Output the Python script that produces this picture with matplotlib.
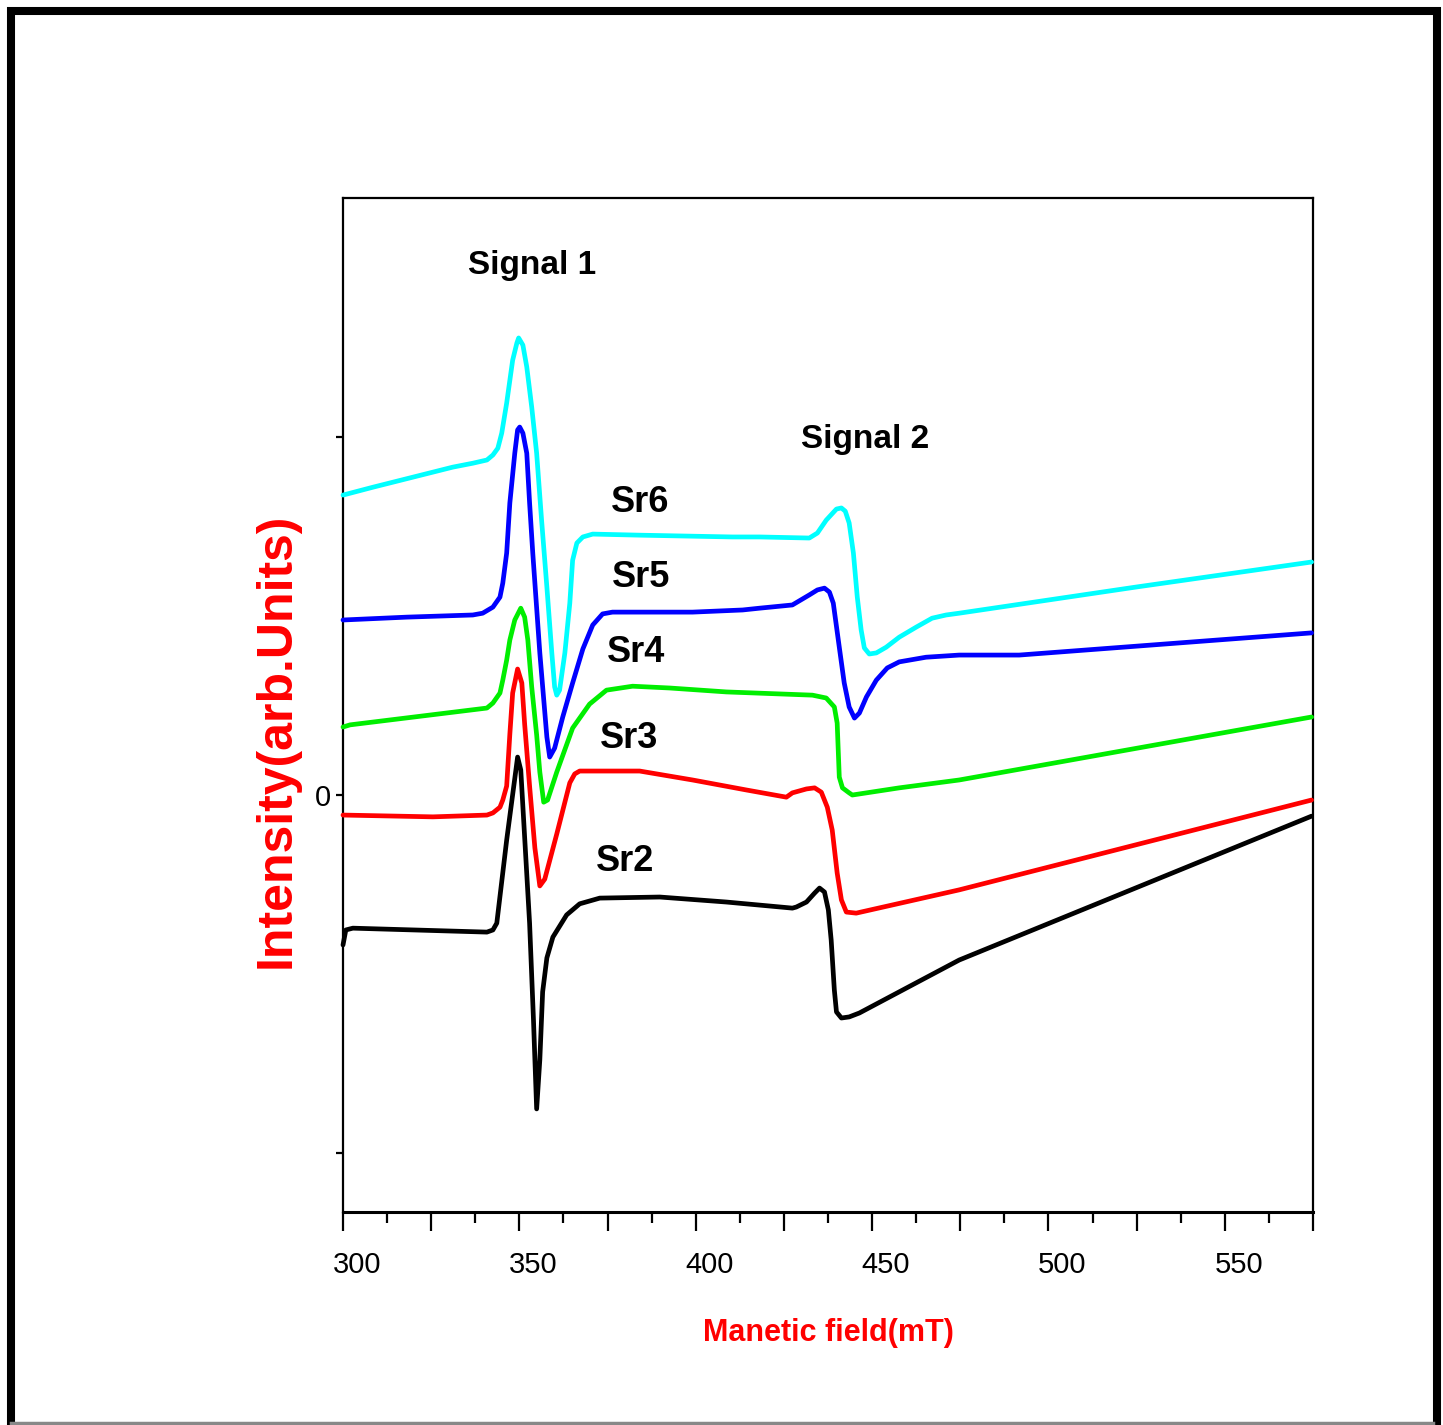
import matplotlib
matplotlib.use("Agg")
import matplotlib.pyplot as plt
import matplotlib.transforms as mtransforms
from matplotlib.patches import Rectangle
from matplotlib.lines import Line2D
from matplotlib.ticker import MultipleLocator, FixedLocator, FuncFormatter

# ---------------- data (field in mT, intensity in arb. units) ----------------
sr6_x = [300.0, 308.5, 331.1, 336.8, 340.8, 342.5, 343.9, 345.0, 346.4, 348.1, 349.3,
         349.8, 351.0, 352.1, 353.5, 354.9, 356.3, 357.8, 359.2, 360.0, 360.6, 361.4,
         362.9, 364.3, 365.1, 366.3, 368.0, 370.8, 384.1, 410.4, 418.1, 432.2, 434.5,
         437.0, 439.9, 441.3, 442.4, 443.5, 444.7, 445.8, 446.9, 447.8, 449.2, 451.2,
         454.0, 457.7, 462.5, 467.0, 471.0, 474.7, 524.8, 574.6]
sr6_y = [0.838, 0.860, 0.916, 0.927, 0.936, 0.950, 0.969, 1.011, 1.095, 1.215, 1.263,
         1.277, 1.257, 1.196, 1.084, 0.955, 0.768, 0.581, 0.397, 0.302, 0.279, 0.293,
         0.397, 0.536, 0.656, 0.704, 0.721, 0.729, 0.726, 0.721, 0.721, 0.718, 0.732,
         0.768, 0.799, 0.802, 0.793, 0.760, 0.676, 0.553, 0.461, 0.411, 0.394, 0.397,
         0.413, 0.441, 0.469, 0.494, 0.503, 0.508, 0.581, 0.651]

sr5_x = [300.0, 318.1, 336.8, 339.6, 342.5, 344.5, 345.3, 346.4, 347.3, 348.7, 349.5,
         350.1, 351.0, 352.1, 352.9, 353.8, 355.8, 357.8, 358.6, 360.0, 362.3, 365.1,
         368.0, 370.8, 373.6, 376.4, 399.1, 413.3, 418.1, 427.4, 432.2, 434.5, 436.5,
         437.9, 439.0, 440.7, 442.1, 443.5, 445.0, 446.4, 448.4, 451.2, 454.3, 457.7,
         465.3, 474.7, 491.7, 574.6]
sr5_y = [0.489, 0.497, 0.503, 0.508, 0.525, 0.553, 0.592, 0.676, 0.816, 0.955, 1.020,
         1.028, 1.011, 0.955, 0.816, 0.676, 0.397, 0.162, 0.106, 0.131, 0.218, 0.313,
         0.408, 0.475, 0.506, 0.511, 0.511, 0.517, 0.522, 0.531, 0.559, 0.573, 0.578,
         0.567, 0.536, 0.413, 0.313, 0.246, 0.215, 0.229, 0.274, 0.321, 0.355, 0.372,
         0.385, 0.391, 0.391, 0.453]

sr4_x = [300.0, 302.0, 340.8, 342.5, 344.5, 345.3, 346.4, 347.3, 348.7, 350.4, 351.5,
         352.4, 353.5, 354.9, 355.8, 356.9, 358.0, 360.6, 365.1, 369.9, 374.7, 382.1,
         392.6, 408.7, 433.1, 437.0, 439.3, 440.1, 440.7, 441.6, 443.5, 444.4, 457.7,
         474.7, 574.6]
sr4_y = [0.190, 0.196, 0.243, 0.257, 0.285, 0.321, 0.377, 0.433, 0.489, 0.522, 0.497,
         0.433, 0.302, 0.168, 0.064, -0.020, -0.014, 0.064, 0.187, 0.254, 0.293, 0.304,
         0.299, 0.288, 0.279, 0.271, 0.246, 0.201, 0.050, 0.020, 0.006, 0.000, 0.020,
         0.042, 0.218]

sr3_x = [300.0, 325.5, 340.8, 342.5, 344.5, 345.3, 346.4, 347.3, 348.1, 349.5, 350.7,
         351.5, 352.9, 354.4, 355.8, 357.2, 360.6, 364.3, 365.7, 367.1, 384.1, 399.1,
         414.4, 425.7, 427.4, 431.4, 433.7, 435.6, 437.3, 438.7, 440.1, 441.3, 442.7,
         445.5, 474.7, 574.6]
sr3_y = [-0.056, -0.061, -0.056, -0.050, -0.034, -0.014, 0.025, 0.170, 0.285, 0.352, 0.313,
         0.198, 0.025, -0.148, -0.254, -0.235, -0.109, 0.034, 0.059, 0.067, 0.067, 0.042,
         0.014, -0.006, 0.006, 0.017, 0.020, 0.008, -0.034, -0.098, -0.218, -0.293, -0.327,
         -0.330, -0.265, -0.014]

sr2_x = [300.0, 300.8, 302.8, 340.8, 342.5, 343.6, 346.4, 349.5, 350.4, 352.9, 354.0,
         354.9, 355.8, 356.6, 357.8, 359.5, 363.4, 367.1, 372.8, 389.8, 408.7, 427.4,
         428.5, 431.4, 433.7, 435.1, 436.5, 437.6, 438.4, 439.3, 439.9, 441.3, 443.5,
         446.4, 474.7, 574.6]
sr2_y = [-0.419, -0.377, -0.372, -0.383, -0.377, -0.358, -0.126, 0.106, 0.070, -0.358, -0.628,
         -0.877, -0.740, -0.550, -0.455, -0.397, -0.335, -0.304, -0.288, -0.285, -0.299, -0.316,
         -0.313, -0.299, -0.274, -0.260, -0.271, -0.321, -0.405, -0.545, -0.606, -0.623, -0.620,
         -0.609, -0.461, -0.059]

series_names = ["Sr6", "Sr5", "Sr4", "Sr3", "Sr2"]
series_colors = ["#00FFFF", "#0000FF", "#00EE00", "#FF0000", "#000000"]
label_pos = [(384.1, 0.818), (384.4, 0.609), (383.2, 0.399), (381.0, 0.159), (380.1, -0.187)]
signal_labels = ["Signal 1", "Signal 2"]
signal_pos = [(353.5, 1.480), (448.1, 0.992)]

x_major = [300, 325, 350, 375, 400, 425, 450, 475, 500, 525, 550, 575]
x_labeled = [300, 350, 400, 450, 500, 550]
y_ticks = [-1, 0, 1]

# ---------------- figure ----------------
W, H = 1443, 1425
fig = plt.figure(figsize=(W / 100, H / 100), dpi=100)
fig.patch.set_facecolor("white")

sans = ["Liberation Sans", "DejaVu Sans"]

ax = fig.add_axes([343 / W, 1 - 1212 / H, (1313 - 343) / W, (1212 - 198) / H])

xs = [sr6_x, sr5_x, sr4_x, sr3_x, sr2_x]
ys = [sr6_y, sr5_y, sr4_y, sr3_y, sr2_y]
for x, y, c in zip(xs, ys, series_colors):
    ax.plot(x, y, color=c, lw=3.4, solid_joinstyle="round", solid_capstyle="round",
            clip_on=False, zorder=3)

ax.set_xlim(300, 575)
ax.set_ylim(-1.165, 1.668)

# x ticks
ax.xaxis.set_major_locator(FixedLocator(x_major))
ax.xaxis.set_minor_locator(MultipleLocator(12.5))
ax.xaxis.set_major_formatter(FuncFormatter(lambda v, p: f"{int(round(v))}" if int(round(v)) in x_labeled else ""))
ax.tick_params(axis="x", which="major", direction="out", length=14, width=1.6, pad=14,
               labelsize=21)
ax.tick_params(axis="x", which="minor", direction="out", length=8, width=1.6)
for lab in ax.get_xticklabels():
    lab.set_fontfamily(sans)
offset = mtransforms.ScaledTranslation(14 / 100, 0, fig.dpi_scale_trans)
for lab in ax.xaxis.get_majorticklabels():
    lab.set_transform(lab.get_transform() + offset)

# y ticks
ax.yaxis.set_major_locator(FixedLocator(y_ticks))
ax.yaxis.set_major_formatter(FuncFormatter(lambda v, p: "0" if abs(v) < 1e-9 else ""))
ax.tick_params(axis="y", which="major", direction="out", length=5, width=1.6, pad=4,
               labelsize=21)
for lab in ax.get_yticklabels():
    lab.set_fontfamily(sans)

ax.spines["bottom"].set_linewidth(2.2)
ax.spines["left"].set_linewidth(1.6)
ax.spines["top"].set_linewidth(1.6)
ax.spines["right"].set_linewidth(1.6)

# labels
ax.set_xlabel("Manetic field(mT)", color="#FF0000", fontsize=22, fontfamily=sans,
              fontweight="bold")
ax.xaxis.set_label_coords((828 - 343) / (1313 - 343), -(1318 - 1212) / (1212 - 198))
ax.set_ylabel("Intensity(arb.Units)", color="#FF0000", fontsize=36, fontfamily=sans,
              fontweight="bold")
ax.yaxis.set_label_coords(-(343 - 300) / (1313 - 343), (1212 - 740) / (1212 - 198))

for name, (px, py) in zip(series_names, label_pos):
    ax.text(px, py, name, fontsize=26, fontweight="bold", fontfamily=sans,
            ha="center", va="center", color="black")
for name, (px, py) in zip(signal_labels, signal_pos):
    ax.text(px, py, name, fontsize=24, fontweight="bold", fontfamily=sans,
            ha="center", va="center", color="black")

# outer frame
fig.add_artist(Rectangle((11 / W, 1 - 1432 / H), (1437 - 11) / W, (1432 - 11) / H,
                         transform=fig.transFigure, fill=False, edgecolor="black",
                         linewidth=5.8))
fig.add_artist(Line2D([11 / W, 1433 / W], [1 - 1423 / H, 1 - 1423 / H],
                      transform=fig.transFigure, color="#888888", linewidth=2.5))

fig.savefig("out.png", dpi=100, facecolor="white")
